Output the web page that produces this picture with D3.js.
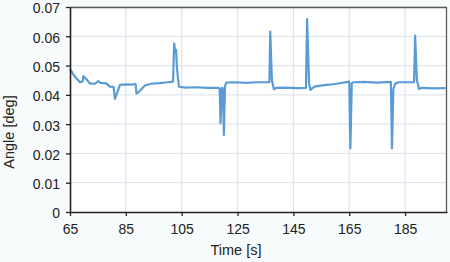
<!DOCTYPE html>
<html>
<head>
<meta charset="utf-8">
<script src="https://cdn.jsdelivr.net/npm/d3@7"></script>
<style>
  body { margin: 0; background: #f8fbfc; }
  text { font-family: "Liberation Sans", Arial, sans-serif; }
</style>
</head>
<body>
<div id="chart"></div>
<script>
// Time [s] and angle [deg]
const times = [65, 66.5, 68.6, 69.5, 69.8, 71, 72.1, 74, 75.1, 76, 78, 79.3, 80.6, 81.1, 81.6, 82.9,
  85, 87, 88.5, 88.8, 89.5, 90.2, 91.8, 94, 97, 100, 101.9, 102.3, 102.7, 103.0, 103.3, 104,
  106, 110, 114, 118.3, 118.6, 118.9, 119.4, 119.8, 120.1, 120.5, 121, 124, 128, 132, 136.4,
  136.7, 137.3, 138, 139, 142, 146, 149.5, 149.9, 150.6, 151.1, 152.5, 156, 160, 165, 165.4,
  165.9, 166.5, 170, 175, 179.9, 180.3, 180.8, 181.4, 182.5, 185, 188.2, 188.6, 189.2, 190,
  191, 195, 199.5];
const angles = [0.0488, 0.0465, 0.0443, 0.0446, 0.0464, 0.0452, 0.0439, 0.0438, 0.0447, 0.0441, 0.0439, 0.0428, 0.0427, 0.0386, 0.0400, 0.0434,
  0.0436, 0.0435, 0.0437, 0.0405, 0.0409, 0.0416, 0.0432, 0.0438, 0.0440, 0.0443, 0.0445, 0.0576, 0.0547, 0.0553, 0.0490, 0.0428,
  0.0425, 0.0426, 0.0424, 0.0424, 0.0420, 0.0303, 0.0425, 0.0420, 0.0263, 0.0430, 0.0442, 0.0443, 0.0441, 0.0443, 0.0443,
  0.0616, 0.0450, 0.0419, 0.0424, 0.0425, 0.0423, 0.0424, 0.0659, 0.0440, 0.0417, 0.0428, 0.0433, 0.0437, 0.0445, 0.0217,
  0.0440, 0.0443, 0.0444, 0.0442, 0.0444, 0.0217, 0.0420, 0.0437, 0.0443, 0.0443, 0.0443, 0.0602, 0.0450, 0.0420,
  0.0424, 0.0422, 0.0423];
const xTicks = [65, 85, 105, 125, 145, 165, 185];
const yTicks = [0, 0.01, 0.02, 0.03, 0.04, 0.05, 0.06, 0.07];

const width = 450, height = 262;
const margin = {top: 7, right: 3, bottom: 50, left: 70};
const innerWidth = width - margin.left - margin.right;
const innerHeight = height - margin.top - margin.bottom;

const data = times.map((t, i) => ({t: t, v: angles[i]}));

const svg = d3.select("#chart")
    .append("svg")
    .attr("width", width)
    .attr("height", height);

const chart = svg.append("g")
    .attr("transform", `translate(${margin.left}, ${margin.top})`);

const xScale = d3.scaleLinear().domain([65, 200]).range([0, innerWidth]);
const yScale = d3.scaleLinear().domain([0, 0.07]).range([innerHeight, 0]);

// Plot background
chart.append("rect")
    .attr("width", innerWidth)
    .attr("height", innerHeight)
    .attr("fill", "#ffffff");

// Gridlines
chart.selectAll(".vgrid")
    .data(xTicks.slice(1))
    .join("line")
    .attr("x1", d => xScale(d)).attr("x2", d => xScale(d))
    .attr("y1", 0).attr("y2", innerHeight)
    .attr("stroke", "#dfe5ee").attr("stroke-width", 1.3);

chart.selectAll(".hgrid")
    .data(yTicks.slice(1))
    .join("line")
    .attr("x1", 0).attr("x2", innerWidth)
    .attr("y1", d => yScale(d)).attr("y2", d => yScale(d))
    .attr("stroke", "#dfe5ee").attr("stroke-width", 1.3);

// Top and right border
chart.append("path")
    .attr("d", `M0,0.5H${innerWidth - 0.5}V${innerHeight}`)
    .attr("fill", "none")
    .attr("stroke", "#5a5a5a")
    .attr("stroke-width", 1.3);

// Data line
const line = d3.line().x(d => xScale(d.t)).y(d => yScale(d.v));
chart.append("path")
    .datum(data)
    .attr("d", line)
    .attr("fill", "none")
    .attr("stroke", "#5b9bd5")
    .attr("stroke-width", 2.2)
    .attr("stroke-linejoin", "round");

// Axes
const xAxis = d3.axisBottom(xScale).tickValues(xTicks).tickSize(4).tickSizeOuter(0).tickPadding(8);
const gx = chart.append("g")
    .attr("transform", `translate(0, ${innerHeight})`)
    .call(xAxis);
gx.selectAll("text").attr("font-size", 14).attr("fill", "#222");

const yAxis = d3.axisLeft(yScale).tickValues(yTicks).tickSize(4).tickSizeOuter(0).tickPadding(6)
    .tickFormat(d => d === 0 ? "0" : d3.format(".2f")(d));
const gy = chart.append("g").call(yAxis);
gy.selectAll("text").attr("font-size", 14).attr("fill", "#222").attr("dy", "0.42em");

[gx, gy].forEach(g => {
    g.select(".domain").attr("stroke", "#222").attr("stroke-width", 1.6);
    g.selectAll(".tick line").attr("stroke", "#222").attr("stroke-width", 1.3);
    g.attr("font-family", null);
});

// Axis titles
svg.append("text")
    .attr("x", 236)
    .attr("y", 255)
    .attr("text-anchor", "middle")
    .attr("font-size", 14.5)
    .attr("fill", "#222")
    .text("Time [s]");

svg.append("text")
    .attr("transform", "rotate(-90)")
    .attr("x", -132)
    .attr("y", 14)
    .attr("text-anchor", "middle")
    .attr("font-size", 14.5)
    .attr("fill", "#222")
    .text("Angle [deg]");
</script>
</body>
</html>
